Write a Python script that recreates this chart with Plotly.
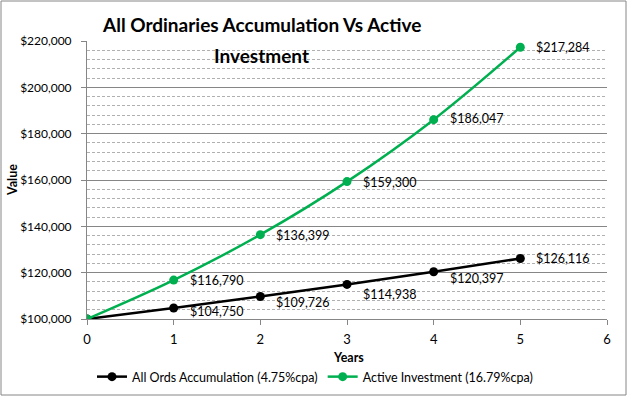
import plotly.graph_objects as go

years = [0, 1, 2, 3, 4, 5]
all_ords = [100000, 104750, 109726, 114938, 120397, 126116]
active = [100000, 116790, 136399, 159300, 186047, 217284]
all_ords_labels = ["", "$104,750", "$109,726", "$114,938", "$120,397", "$126,116"]
active_labels = ["", "$116,790", "$136,399", "$159,300", "$186,047", "$217,284"]
series_names = ["All Ords Accumulation (4.75%cpa)", "Active Investment (16.79%cpa)"]
title_lines = ["All Ordinaries Accumulation Vs Active", "Investment"]

# label pixel offsets (style only)
black_yshift = [0, -3, -6, -10, -7, 0]
green_yshift = [0, 0, -1, -1, 1, 0]

font_family = "Lato, 'Open Sans', sans-serif"
W, H = 627, 396
L, R, T, B = 87, 20, 41, 77
PW, PH = W - L - R, H - T - B

fig = go.Figure()
fig.add_trace(go.Scatter(
    x=years, y=all_ords, mode="lines+markers", name=series_names[0],
    line=dict(color="#000000", width=2.5, shape="spline"),
    marker=dict(size=9, color="#000000"),
))
fig.add_trace(go.Scatter(
    x=years, y=active, mode="lines+markers", name=series_names[1],
    line=dict(color="#00B050", width=2.5, shape="spline"),
    marker=dict(size=9, color="#00B050"),
))

annotations = []
for xv, yv, t, ys in zip(years, all_ords, all_ords_labels, black_yshift):
    if t:
        annotations.append(dict(x=xv, y=yv, text=t, showarrow=False, xanchor="left",
                                yanchor="middle", xshift=14, yshift=ys,
                                font=dict(size=12.5, color="#000000", family=font_family)))
for xv, yv, t, ys in zip(years, active, active_labels, green_yshift):
    if t:
        annotations.append(dict(x=xv, y=yv, text=t, showarrow=False, xanchor="left",
                                yanchor="middle", xshift=14, yshift=ys,
                                font=dict(size=12.5, color="#000000", family=font_family)))

# title lines
for line, cy in zip(title_lines, [25, 55]):
    annotations.append(dict(xref="paper", yref="paper", x=(261 - L) / PW, y=1 + (T - cy) / PH,
                            text="<b>" + line + "</b>", showarrow=False,
                            xanchor="center", yanchor="middle",
                            font=dict(size=19, family=font_family, color="#000000")))
# axis titles
annotations.append(dict(xref="paper", yref="paper", x=(348 - L) / PW, y=-(357 - (H - B)) / PH,
                        text="<b>Years</b>", showarrow=False, xanchor="center", yanchor="middle",
                        font=dict(size=12.5, family=font_family, color="#000000")))
annotations.append(dict(xref="paper", yref="paper", x=(12 - L) / PW, y=(H - B - 180) / PH,
                        text="<b>Value</b>", showarrow=False, xanchor="center", yanchor="middle",
                        textangle=-90,
                        font=dict(size=12.5, family=font_family, color="#000000")))

fig.update_layout(
    width=W, height=H,
    margin=dict(l=L, r=R, t=T, b=B, autoexpand=False),
    paper_bgcolor="white", plot_bgcolor="white",
    font=dict(family=font_family, color="#000000", size=12),
    showlegend=True,
    legend=dict(
        orientation="h", x=(315 - L) / PW, xanchor="center", y=-(377 - (H - B)) / PH, yanchor="middle",
        font=dict(size=12.5, family=font_family), itemwidth=30,
    ),
    xaxis=dict(
        range=[0, 6], dtick=1, tick0=0, showgrid=False,
        showline=True, linecolor="#868686", linewidth=1,
        ticks="outside", tickcolor="#868686", ticklen=5,
        tickfont=dict(size=13), ticklabelstandoff=3,
        zeroline=False, automargin=False,
    ),
    yaxis=dict(
        range=[100000, 220000], dtick=20000, tick0=100000,
        tickformat="$,.0f",
        showgrid=True, gridcolor="#868686", gridwidth=1,
        minor=dict(dtick=4000, showgrid=True, gridcolor="#B0B0B0", griddash="3px,2px", gridwidth=1),
        showline=True, linecolor="#868686", linewidth=1,
        ticks="outside", tickcolor="#868686", ticklen=5,
        tickfont=dict(size=12), ticklabelstandoff=7,
        zeroline=False, automargin=False,
    ),
    annotations=annotations,
    shapes=[dict(type="rect", xref="paper", yref="paper", x0=-(L - 1) / PW, x1=1 + (R - 1) / PW,
                 y0=-(B - 1) / PH, y1=1 + (T - 1) / PH, line=dict(color="#868686", width=1))],
)

fig.write_html("out.html", config={"displayModeBar": False},
               post_script="document.body.style.margin='0';document.body.style.overflow='hidden';")
